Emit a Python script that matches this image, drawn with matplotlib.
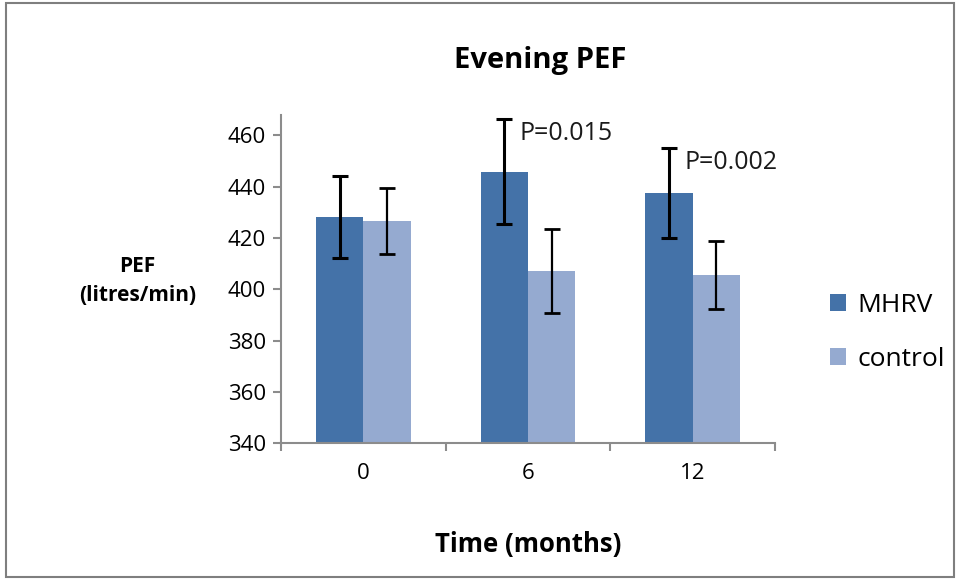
import matplotlib.pyplot as plt
import numpy as np
from matplotlib.patches import Rectangle

plt.rcParams['font.family'] = ['Open Sans', 'DejaVu Sans']

# data
times = ['0', '6', '12']
mhrv = [428.1, 445.8, 437.6]
mhrv_err = [16.0, 20.5, 17.5]
control = [426.7, 407.1, 405.6]
control_err = [12.8, 16.5, 13.3]
p_labels = ['', 'P=0.015', 'P=0.002']

dark = '#4472a8'
light = '#95aad0'
grey = '#8c8c8c'

fig = plt.figure(figsize=(9.6, 5.8), dpi=100)
ax = fig.add_axes([0.2927, 0.236, 0.5146, 0.566])

x = np.arange(len(times))
w = 0.288
ax.bar(x - w/2, mhrv, w, color=dark, label='MHRV')
ax.bar(x + w/2, control, w, color=light, label='control')
ax.errorbar(x - w/2, mhrv, yerr=mhrv_err, fmt='none', ecolor='black',
            elinewidth=2.2, capsize=6, capthick=2.2)
ax.errorbar(x + w/2, control, yerr=control_err, fmt='none', ecolor='black',
            elinewidth=1.6, capsize=5.5, capthick=2)

for i, lab in enumerate(p_labels):
    if lab:
        ax.text(x[i] - 0.05, mhrv[i] + mhrv_err[i] - 5.5, lab,
                fontsize=18, color='#1a1a1a', va='center', ha='left')

ax.set_xlim(-0.5, 2.5)
ax.set_ylim(340, 468)
ax.set_yticks(range(340, 461, 20))
ax.set_xticks(x)
ax.set_xticklabels(times)
ax.set_xticks([-0.5, 0.5, 1.5, 2.5], minor=True)
ax.tick_params(axis='x', which='major', length=0, pad=14, labelsize=16)
ax.tick_params(axis='x', which='minor', length=6, color=grey, width=1.5)
ax.tick_params(axis='y', length=6, color=grey, width=1.5, labelsize=16, pad=5)

for s in ['top', 'right']:
    ax.spines[s].set_visible(False)
for s in ['left', 'bottom']:
    ax.spines[s].set_color(grey)
    ax.spines[s].set_linewidth(1.5)

fig.text(0.5625, 0.895, 'Evening PEF', fontsize=21, fontweight='bold',
         ha='center', va='center')
fig.text(0.143, 0.515, 'PEF\n(litres/min)', fontsize=15, fontweight='bold',
         ha='center', va='center', linespacing=1.5)
fig.text(0.550, 0.062, 'Time (months)', fontsize=18.5, fontweight='bold',
         ha='center', va='center')

fig.legend(loc='center left', bbox_to_anchor=(0.84, 0.427), frameon=False,
           fontsize=19, handlelength=0.6, handleheight=0.6,
           handletextpad=0.45, labelspacing=1.1)

fig.patches.append(Rectangle((0.006, 0.006), 0.988, 0.988, transform=fig.transFigure,
                             fill=False, edgecolor='#7f7f7f', linewidth=1.5))

fig.savefig('out.png', dpi=100)
